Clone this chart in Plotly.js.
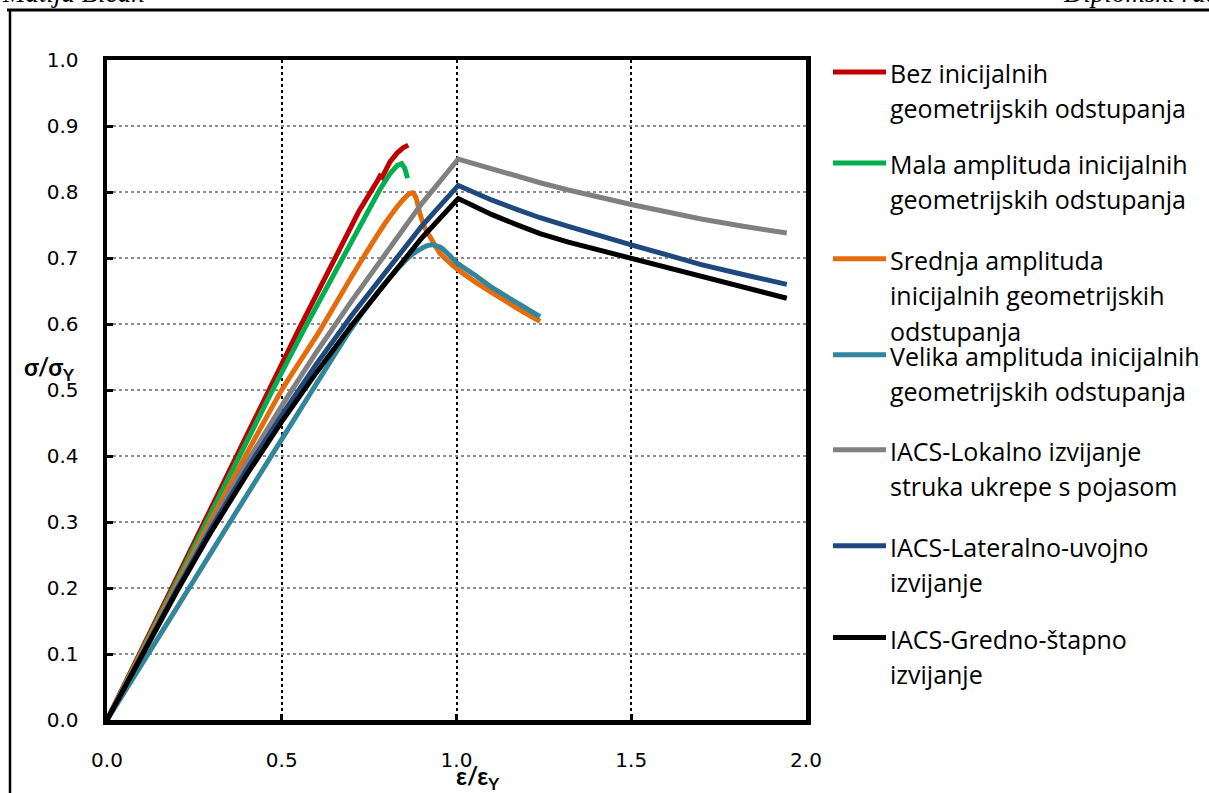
<!DOCTYPE html>
<html><head><meta charset="utf-8">
<script src="https://cdn.plot.ly/plotly-3.0.1.min.js"></script>
<style>html,body{margin:0;padding:0;background:#fff;} #chart{width:1209px;height:793px;}</style>
</head><body><div id="chart"></div>
<script>
// ---- data ----
const seriesNames = [
  "Bez inicijalnih geometrijskih odstupanja",
  "Mala amplituda inicijalnih geometrijskih odstupanja",
  "Srednja amplituda inicijalnih geometrijskih odstupanja",
  "Velika amplituda inicijalnih geometrijskih odstupanja",
  "IACS-Lokalno izvijanje struka ukrepe s pojasom",
  "IACS-Lateralno-uvojno izvijanje",
  "IACS-Gredno-štapno izvijanje"
];
const legendLines = [
  ["Bez inicijalnih", "geometrijskih odstupanja"],
  ["Mala amplituda inicijalnih", "geometrijskih odstupanja"],
  ["Srednja amplituda", "inicijalnih geometrijskih", "odstupanja"],
  ["Velika amplituda inicijalnih", "geometrijskih odstupanja"],
  ["IACS-Lokalno izvijanje", "struka ukrepe s pojasom"],
  ["IACS-Lateralno-uvojno", "izvijanje"],
  ["IACS-Gredno-štapno", "izvijanje"]
];
const xTickVals = [0, 0.5, 1.0, 1.5, 2.0];
const yTickVals = [0, 0.1, 0.2, 0.3, 0.4, 0.5, 0.6, 0.7, 0.8, 0.9, 1.0];

const redX = [0, 0.1, 0.2, 0.3, 0.4, 0.466, 0.547, 0.65, 0.72, 0.775, 0.781, 0.787, 0.795, 0.81, 0.83, 0.847, 0.862];
const redY = [0, 0.108, 0.215, 0.322, 0.43, 0.5, 0.59, 0.697, 0.77, 0.818, 0.824, 0.822, 0.83, 0.846, 0.859, 0.867, 0.871];

const greenX = [0, 0.1, 0.2, 0.3, 0.4, 0.474, 0.562, 0.65, 0.72, 0.78, 0.81, 0.83, 0.843, 0.852, 0.86];
const greenY = [0, 0.106, 0.212, 0.318, 0.422, 0.5, 0.59, 0.677, 0.745, 0.803, 0.828, 0.84, 0.843, 0.836, 0.821];

const orangeX = [0, 0.1, 0.2, 0.3, 0.4, 0.5, 0.609, 0.7, 0.75, 0.8, 0.84, 0.862, 0.875, 0.885, 0.895, 0.91, 0.93, 0.953, 1.0, 1.05, 1.1, 1.17, 1.239];
const orangeY = [0, 0.104, 0.206, 0.306, 0.404, 0.5, 0.59, 0.672, 0.715, 0.756, 0.784, 0.796, 0.799, 0.79, 0.768, 0.745, 0.727, 0.707, 0.684, 0.665, 0.648, 0.625, 0.604];

const tealX = [0, 0.1, 0.235, 0.352, 0.47, 0.588, 0.695, 0.76, 0.82, 0.87, 0.905, 0.93, 0.955, 0.98, 1.0, 1.05, 1.1, 1.17, 1.239];
const tealY = [0, 0.085, 0.2, 0.3, 0.4, 0.5, 0.59, 0.638, 0.677, 0.704, 0.716, 0.72, 0.716, 0.704, 0.693, 0.675, 0.656, 0.633, 0.611];

const grayX = [0, 0.1, 0.2, 0.3, 0.4, 0.5, 0.6, 0.7, 0.8, 0.9, 1.005, 1.05, 1.1, 1.17, 1.239, 1.32, 1.4, 1.5, 1.6, 1.7, 1.82, 1.945];
const grayY = [0, 0.102, 0.202, 0.298, 0.39, 0.476, 0.558, 0.635, 0.71, 0.782, 0.85, 0.843, 0.835, 0.824, 0.814, 0.803, 0.793, 0.781, 0.77, 0.759, 0.748, 0.738];

const blueX = [0, 0.1, 0.2, 0.3, 0.4, 0.5, 0.6, 0.7, 0.8, 0.9, 1.005, 1.05, 1.1, 1.17, 1.239, 1.32, 1.4, 1.5, 1.6, 1.7, 1.82, 1.945];
const blueY = [0, 0.1, 0.198, 0.292, 0.38, 0.462, 0.54, 0.613, 0.682, 0.748, 0.81, 0.799, 0.788, 0.774, 0.761, 0.748, 0.735, 0.72, 0.705, 0.69, 0.675, 0.66];

const blackX = [0, 0.1, 0.2, 0.3, 0.4, 0.5, 0.6, 0.7, 0.8, 0.9, 1.005, 1.05, 1.1, 1.17, 1.239, 1.32, 1.4, 1.5, 1.6, 1.7, 1.82, 1.945];
const blackY = [0, 0.099, 0.195, 0.287, 0.372, 0.452, 0.527, 0.598, 0.665, 0.73, 0.79, 0.778, 0.766, 0.751, 0.737, 0.724, 0.713, 0.7, 0.685, 0.671, 0.655, 0.639];

const colors = ["#C00000", "#00B050", "#E46C0A", "#31859C", "#808080", "#1F497D", "#000000"];

// ---- build ----
const xs = [redX, greenX, orangeX, tealX, grayX, blueX, blackX];
const ys = [redY, greenY, orangeY, tealY, grayY, blueY, blackY];
const traces = xs.map((x, i) => ({
  type: "scatter", mode: "lines", x: x, y: ys[i], name: seriesNames[i],
  line: (i === 2 || i === 3) ? {color: colors[i], width: 5, shape: "spline", smoothing: 0.5} : {color: colors[i], width: 5},
  showlegend: false, hoverinfo: "skip"
}));

const L = 107, R = 806, T = 60, B = 720.5;
const W = R - L, H = B - T;
const PX = p => (p - L) / W;
const PY = p => (B - p) / H;

const shapes = [];
const annotations = [];
const legendFont = {family: "Open Sans", size: 25, color: "#000"};
const legendTop = [72, 163, 259, 355, 450, 546, 638];
const lineGap = 35.5;
legendLines.forEach((lines, i) => {
  const y0 = legendTop[i];
  shapes.push({type: "line", xref: "paper", yref: "paper", x0: PX(833), x1: PX(886), y0: PY(y0), y1: PY(y0),
    line: {color: colors[i], width: 5}, layer: "above"});
  lines.forEach((t, j) => {
    annotations.push({xref: "paper", yref: "paper", x: PX(888), y: PY(y0 + j * lineGap + 1),
      xanchor: "left", yanchor: "middle", text: t, showarrow: false, font: legendFont});
  });
});

// axis titles
annotations.push({xref: "paper", yref: "paper", x: PX(477), y: PY(778), xanchor: "center", yanchor: "middle",
  text: "<b>ε/ε<sub>Y</sub></b>", showarrow: false, font: {family: "Lato", size: 24, color: "#000"}});
annotations.push({xref: "paper", yref: "paper", x: PX(49), y: PY(369), xanchor: "center", yanchor: "middle",
  text: "<b>σ/σ<sub>Y</sub></b>", showarrow: false, font: {family: "Lato", size: 24, color: "#000"}});

// page header (cut off at the top)
annotations.push({xref: "paper", yref: "paper", x: PX(0), y: PY(-7), xanchor: "left", yanchor: "middle",
  text: "<i>Matija Bičan</i>", showarrow: false, font: {family: "Liberation Serif", size: 27, color: "#000"}});
annotations.push({xref: "paper", yref: "paper", x: PX(1061), y: PY(-7), xanchor: "left", yanchor: "middle",
  text: "<i>Diplomski rad</i>", showarrow: false, font: {family: "Liberation Serif", size: 27, color: "#000"}});

// page frame lines
shapes.push({type: "line", xref: "paper", yref: "paper", x0: PX(7), x1: PX(1215), y0: PY(10), y1: PY(10),
  line: {color: "#000", width: 3}, layer: "above"});
shapes.push({type: "line", xref: "paper", yref: "paper", x0: PX(10), x1: PX(10), y0: PY(9), y1: PY(800),
  line: {color: "#000", width: 2.5}, layer: "above"});

const tickFont = {family: "DejaVu Sans", size: 20, color: "#000"};
const layout = {
  width: 1209, height: 793, autosize: false,
  margin: {l: L, r: 1209 - R, t: T, b: 793 - B, pad: 0},
  paper_bgcolor: "#fff", plot_bgcolor: "#fff",
  showlegend: false,
  xaxis: {range: [0, 2], tickvals: xTickVals, tickformat: ".1f", showgrid: true, gridcolor: "#000",
    griddash: "dot", gridwidth: 2, showline: true, linecolor: "#000", linewidth: 4.5, mirror: true,
    ticks: "inside", ticklen: 6, tickwidth: 3, tickcolor: "#000", zeroline: false, tickfont: tickFont,
    ticklabelstandoff: 18, fixedrange: true},
  yaxis: {range: [0, 1], tickvals: yTickVals, tickformat: ".1f", showgrid: true, gridcolor: "#8c8c8c",
    griddash: "dot", gridwidth: 1.5, showline: true, linecolor: "#000", linewidth: 4.5, mirror: true,
    ticks: "inside", ticklen: 6, tickwidth: 3, tickcolor: "#000", zeroline: false, tickfont: tickFont,
    ticklabelstandoff: 20, fixedrange: true},
  shapes: shapes,
  annotations: annotations
};
Plotly.newPlot("chart", traces, layout, {displayModeBar: false, staticPlot: true});
</script>
</body></html>
